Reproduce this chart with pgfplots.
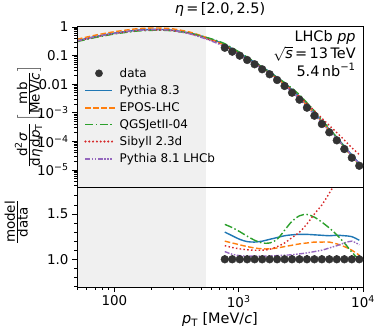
\documentclass[border=0pt]{standalone}
\usepackage{fontspec}
\setmainfont{DejaVu Sans}
\usepackage{pgfplots}
\usepackage{pgfplotstable}
\pgfplotsset{compat=1.18}
\definecolor{mplblue}{HTML}{1F77B4}
\definecolor{mplorange}{HTML}{FF7F0E}
\definecolor{mplgreen}{HTML}{2CA02C}
\definecolor{mplred}{HTML}{D62728}
\definecolor{mplpurple}{HTML}{9467BD}
\definecolor{cshade}{HTML}{F0F0F0}
\definecolor{datac}{HTML}{333333}

\pgfplotstableread{
x y one e
773 0.1875 1 0.045
887 0.137 1 0.045
1019 0.0993 1 0.045
1170 0.0702 1 0.045
1343 0.0497 1 0.045
1544 0.0332 1 0.045
1774 0.0222 1 0.045
2037 0.0140 1 0.045
2339 0.00865 1 0.045
2685 0.00504 1 0.045
3083 0.00287 1 0.045
3540 0.00151 1 0.045
4064 0.000792 1 0.045
4667 0.000406 1 0.045
5358 0.000208 1 0.045
6152 0.000109 1 0.045
7079 0.0000542 1 0.045
8128 0.0000269 1 0.045
9333 0.0000141 1 0.045
}\datatab

\pgfplotstableread{
x b o g r p
50 0.33 0.37 0.307 0.32 0.323
70 0.46 0.515 0.428 0.446 0.451
100 0.61 0.683 0.567 0.592 0.598
150 0.77 0.862 0.716 0.747 0.755
200 0.82 0.918 0.763 0.795 0.804
250 0.81 0.907 0.765 0.786 0.794
300 0.76 0.851 0.722 0.737 0.745
400 0.62 0.670 0.608 0.589 0.583
500 0.48 0.494 0.48 0.446 0.432
600 0.375 0.368 0.386 0.341 0.326
700 0.295 0.277 0.31 0.263 0.249
773 0.2438 0.225 0.2597 0.2156 0.2034
887 0.1726 0.1617 0.185 0.1548 0.1445
1019 0.1211 0.1152 0.1296 0.1107 0.1033
1170 0.0839 0.0800 0.0881 0.0776 0.0727
1343 0.0591 0.0559 0.0601 0.0547 0.0514
1544 0.0398 0.0370 0.0392 0.0365 0.03436
1774 0.0271 0.02475 0.0262 0.02464 0.02302
2037 0.01736 0.01575 0.01708 0.01596 0.01456
2339 0.0109 0.00986 0.01142 0.01021 0.00904
2685 0.0064 0.00582 0.00716 0.00625 0.00529
3083 0.00366 0.00336 0.00425 0.00376 0.00304
3540 0.001925 0.001782 0.002257 0.0021 0.001616
4064 0.001006 0.000942 0.00116 0.00118 0.000859
4667 0.000514 0.000483 0.000572 0.00065 0.000447
5358 0.000262 0.0002475 0.00028 0.00036 0.000234
6152 0.0001379 0.0001275 0.0001384 0.000204 0.0001254
7079 0.0000683 0.0000618 0.000064 0.0001111 0.000064
8128 0.0000336 0.0000296 0.00002905 0.0000605 0.0000323
9333 0.00001706 0.00001473 0.00001396 0.0000345 0.00001636
}\modeltab

\pgfplotstableread{
x rb ro rg rr rp
773 1.30 1.20 1.385 1.15 1.085
887 1.26 1.18 1.35 1.13 1.055
1019 1.22 1.16 1.305 1.115 1.04
1170 1.195 1.14 1.255 1.105 1.035
1343 1.19 1.125 1.21 1.10 1.035
1544 1.20 1.115 1.18 1.10 1.035
1774 1.22 1.115 1.18 1.11 1.037
2037 1.24 1.125 1.22 1.14 1.04
2339 1.26 1.14 1.32 1.18 1.045
2685 1.27 1.155 1.42 1.24 1.05
3083 1.275 1.17 1.48 1.30 1.06
3540 1.275 1.18 1.495 1.39 1.07
4064 1.27 1.19 1.465 1.50 1.085
4667 1.265 1.19 1.41 1.60 1.10
5358 1.26 1.19 1.345 1.73 1.125
6152 1.265 1.17 1.27 1.87 1.15
7079 1.26 1.14 1.18 2.05 1.18
8128 1.25 1.10 1.08 2.25 1.20
9333 1.21 1.045 0.99 2.45 1.16
}\ratiotab

\tikzset{
  lnblue/.style={draw=mplblue, line width=1.4bp, solid},
  lnorange/.style={draw=mplorange, line width=1.4bp, dash pattern=on 5.5bp off 2.5bp},
  lngreen/.style={draw=mplgreen, line width=1.4bp, dash pattern=on 8bp off 2.5bp on 1.5bp off 2.5bp},
  lnred/.style={draw=mplred, line width=1.4bp, dash pattern=on 1.5bp off 2.3bp},
  lnpurple/.style={draw=mplpurple, line width=1.4bp, dash pattern=on 5bp off 1.5bp on 1.5bp off 1.5bp on 1.5bp off 1.5bp},
}

\begin{document}
\begin{tikzpicture}[font=\fontsize{12}{14}\selectfont]
\path[use as bounding box] (-77bp,26bp) rectangle (305bp,-310bp);
\begin{axis}[name=top, at={(0,0)}, anchor=north west,
  scale only axis, width=286bp, height=161bp,
  xmode=log, ymode=log, xmin=50, xmax=10000, ymin=2.55e-6, ymax=1.08,
  axis on top, axis line style={black, line width=0.8bp},
  tick style={black, line width=0.8bp},
  tick align=outside, ytick pos=left,
  major tick length=5bp, minor tick length=2.8bp,
  yticklabel style={font=\fontsize{13.5}{15}\selectfont},
  xtick=\empty,
  ytick={1e-5,1e-4,1e-3,0.01,0.1,1},
  yticklabels={10\textsuperscript{−5},10\textsuperscript{−4},10\textsuperscript{−3},0.01,0.1,1},
  minor ytick={3e-6,4e-6,5e-6,6e-6,7e-6,8e-6,9e-6,2e-5,3e-5,4e-5,5e-5,6e-5,7e-5,8e-5,9e-5,2e-4,3e-4,4e-4,5e-4,6e-4,7e-4,8e-4,9e-4,2e-3,3e-3,4e-3,5e-3,6e-3,7e-3,8e-3,9e-3,0.02,0.03,0.04,0.05,0.06,0.07,0.08,0.09,0.2,0.3,0.4,0.5,0.6,0.7,0.8,0.9},
  ylabel={$\frac{\mbox{d\textsuperscript{2}\itshape σ}}{\mbox{d\itshape η\upshape\,d\itshape p\upshape\textsubscript{T}}}\left[\frac{\mbox{mb}}{\mbox{MeV/\itshape c}}\right]$},
  ylabel style={at={(axis description cs:-0.119,0.435)}, anchor=south, font=\fontsize{13.5}{15}\selectfont, inner sep=0pt},
  title={\textit{η}\,=\,[2.0,\,2.5)},
  title style={at={(0.5,1)}, anchor=base, yshift=7bp, font=\fontsize{14.5}{16}\selectfont},
  legend style={at={(axis description cs:0.015,0.765)}, anchor=north west, draw=none, fill=none,
    font=\fontsize{12}{14}\selectfont, row sep=2.6bp, column sep=3bp},
  legend cell align=left,
]
\fill[cshade] (axis cs:50,2.55e-6) rectangle (axis cs:545,1.08);
\addlegendimage{legend image code/.code={\fill[datac] (13.5bp,0bp) circle[radius=3.6bp];}}
\addlegendentry{data}
\addlegendimage{legend image code/.code={\draw[mplblue, line width=1.6bp] (0bp,0bp) -- (27bp,0bp);}}
\addlegendentry{Pythia 8.3}
\addlegendimage{legend image code/.code={\foreach \xa in {0,8,16,24} {\fill[mplorange] (\xa bp,-0.7bp) rectangle ++(5bp,1.4bp);}}}
\addlegendentry{EPOS-LHC}
\addlegendimage{legend image code/.code={\draw[mplgreen, line width=1.6bp, dash pattern=on 8bp off 2.5bp on 1.5bp off 2.5bp] (0bp,0bp) -- (27bp,0bp);}}
\addlegendentry{QGSJetII-04}
\addlegendimage{legend image code/.code={\foreach \xa in {0,3.8,7.6,11.4,15.2,19,22.8,26.6} {\fill[mplred] (\xa bp,0bp) circle[radius=0.8bp];}}}
\addlegendentry{Sibyll 2.3d}
\addlegendimage{legend image code/.code={\draw[mplpurple, line width=1.6bp, dash pattern=on 5bp off 1.5bp on 1.5bp off 1.5bp on 1.5bp off 1.5bp] (0bp,0bp) -- (27bp,0bp);}}
\addlegendentry{Pythia 8.1 LHCb}
\addplot[lnblue, smooth, tension=0.4, forget plot] table[x=x, y=b] {\modeltab};
\addplot[lnorange, smooth, tension=0.4, forget plot] table[x=x, y=o] {\modeltab};
\addplot[lngreen, smooth, tension=0.4, forget plot] table[x=x, y=g] {\modeltab};
\addplot[lnred, smooth, tension=0.4, forget plot] table[x=x, y=r] {\modeltab};
\addplot[lnpurple, smooth, tension=0.4, forget plot] table[x=x, y=p] {\modeltab};
\addplot[only marks, mark=*, mark size=3.9bp, color=datac, mark options={fill=datac, draw=datac}, forget plot] table[x=x, y=y] {\datatab};
\node[anchor=north east, align=right, font=\fontsize{14.5}{17}\selectfont, inner sep=0pt] at (rel axis cs:0.975,0.975)
  {LHCb \textit{pp}\\[0.5bp] $\sqrt{\mbox{\itshape s}}$\,=\,13\,TeV\\[0.5bp] 5.4\,nb\textsuperscript{−1}};
\end{axis}
\begin{axis}[at={(top.south west)}, anchor=north west,
  scale only axis, width=286bp, height=100bp,
  xmode=log, xmin=50, xmax=10000, ymin=0.694, ymax=1.798,
  axis on top, axis line style={black, line width=0.8bp},
  tick style={black, line width=0.8bp},
  tick align=outside, xtick pos=bottom, ytick pos=left,
  major tick length=5bp, minor tick length=2.8bp,
  ticklabel style={font=\fontsize{13.5}{15}\selectfont},
  xtick={100,1000,10000}, xticklabels={100,10\textsuperscript{3},10\textsuperscript{4}},
  minor xtick={50,60,70,80,90,200,300,400,500,600,700,800,900,2000,3000,4000,5000,6000,7000,8000,9000},
  ytick={1.0,1.5}, yticklabels={1.0,1.5},
  minor ytick={0.7,0.8,0.9,1.1,1.2,1.3,1.4,1.6,1.7},
  xlabel={\textit{p}\textsubscript{T} [MeV/\textit{c}]},
  xlabel style={font=\fontsize{14.5}{16}\selectfont, yshift=2bp},
  ylabel={$\frac{\mbox{model}}{\mbox{data}}$},
  ylabel style={at={(axis description cs:-0.171,0.65)}, anchor=south, font=\fontsize{13.5}{15}\selectfont, inner sep=0pt},
]
\fill[cshade] (axis cs:50,0.694) rectangle (axis cs:545,1.798);
\addplot[lnblue, smooth, tension=0.5] table[x=x, y=rb] {\ratiotab};
\addplot[lnorange, smooth, tension=0.5] table[x=x, y=ro] {\ratiotab};
\addplot[lngreen, smooth, tension=0.5] table[x=x, y=rg] {\ratiotab};
\addplot[lnred, smooth, tension=0.5] table[x=x, y=rr] {\ratiotab};
\addplot[lnpurple, smooth, tension=0.5] table[x=x, y=rp] {\ratiotab};
\addplot[only marks, mark=*, mark size=3.9bp, color=datac, mark options={fill=datac, draw=datac},
  error bars/.cd, y dir=both, y explicit, error bar style={datac, line width=1.2bp}, error mark=none]
  table[x=x, y=one, y error=e] {\datatab};
\end{axis}
\end{tikzpicture}
\end{document}
